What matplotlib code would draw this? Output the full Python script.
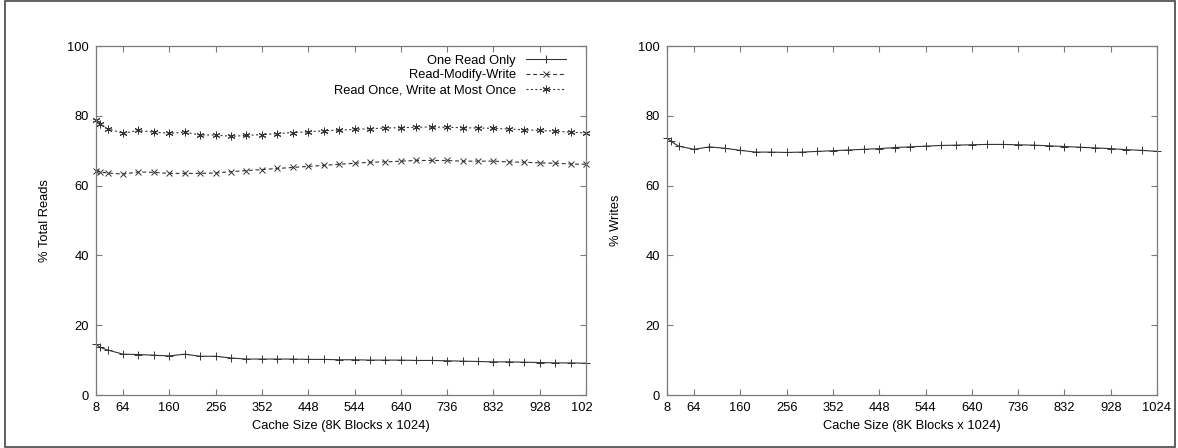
import matplotlib
matplotlib.use("Agg")
import matplotlib.pyplot as plt
from matplotlib.patches import Rectangle
from matplotlib.transforms import Bbox

plt.rcParams['font.family'] = ['Liberation Sans', 'DejaVu Sans']

# Cache sizes (8K blocks x 1024)
cache_size = [8, 16, 32, 64, 96, 128, 160, 192, 224, 256, 288, 320, 352, 384,
              416, 448, 480, 512, 544, 576, 608, 640, 672, 704, 736, 768, 800,
              832, 864, 896, 928, 960, 992, 1024]

one_read_only = [14.5, 13.7, 12.9, 11.7, 11.6, 11.4, 11.2, 11.7, 11.1, 11.1,
                 10.6, 10.3, 10.3, 10.3, 10.3, 10.2, 10.2, 10.1, 10.1, 10.0,
                 10.0, 10.0, 9.9, 9.9, 9.8, 9.7, 9.6, 9.5, 9.5, 9.4, 9.3, 9.2,
                 9.2, 9.1]

read_modify_write = [64.2, 63.9, 63.6, 63.3, 63.9, 63.8, 63.5, 63.5, 63.5, 63.6,
                     64.0, 64.3, 64.6, 64.9, 65.2, 65.5, 65.8, 66.1, 66.4, 66.7,
                     66.8, 67.0, 67.2, 67.2, 67.2, 67.0, 67.0, 67.0, 66.8, 66.7,
                     66.5, 66.4, 66.2, 66.1]

read_once_write_once = [78.8, 77.7, 76.3, 75.0, 75.8, 75.3, 75.0, 75.3, 74.5, 74.5,
                        74.1, 74.4, 74.6, 74.9, 75.2, 75.4, 75.7, 75.9, 76.1, 76.3,
                        76.5, 76.6, 76.7, 76.8, 76.7, 76.6, 76.5, 76.4, 76.2, 76.0,
                        75.8, 75.6, 75.3, 75.1]

writes = [73.6, 72.7, 71.3, 70.4, 71.1, 70.7, 70.1, 69.6, 69.6, 69.5,
          69.6, 69.8, 70.0, 70.2, 70.4, 70.6, 70.9, 71.1, 71.3, 71.5,
          71.6, 71.7, 71.8, 71.8, 71.7, 71.6, 71.4, 71.2, 71.0, 70.8,
          70.6, 70.3, 70.1, 69.8]

xtick_vals = [8, 64, 160, 256, 352, 448, 544, 640, 736, 832, 928, 1024]
ytick_vals = [0, 20, 40, 60, 80, 100]

FS = 9.3
PAD = 5
LINE_C = '#333333'
SPINE_C = '#7a7a7a'

fig = plt.figure(figsize=(11.78, 4.48), dpi=100)
W, H = 1178, 448


def px_axes(x0, x1, ytop, ybot):
    return fig.add_axes([x0 / W, 1 - ybot / H, (x1 - x0) / W, (ybot - ytop) / H])


def style(ax, ylabel, clip_last=False):
    ax.set_xlim(8, 1024)
    ax.set_ylim(0, 100)
    ax.set_yticks(ytick_vals)
    ax.set_yticklabels([str(v) for v in ytick_vals], fontsize=FS)
    ax.set_xticks(xtick_vals)
    labels = [str(v) for v in xtick_vals]
    if clip_last:
        labels[-1] = ''
    ax.set_xticklabels(labels, fontsize=FS)
    ax.tick_params(direction='in', length=4.5, width=0.8, color=SPINE_C,
                   top=True, right=True, pad=PAD)
    for s in ax.spines.values():
        s.set_color(SPINE_C)
        s.set_linewidth(0.9)
    ax.set_ylabel(ylabel, fontsize=FS, labelpad=12)
    ax.set_xlabel('Cache Size (8K Blocks x 1024)', fontsize=FS, labelpad=4)


ax1 = px_axes(96, 586, 46, 395)
ax2 = px_axes(667, 1157, 46, 395)

ax1.plot(cache_size, one_read_only, color=LINE_C, lw=0.8, ls='-',
         marker='+', ms=6, mew=0.7, label='One Read Only', clip_on=False)
ax1.plot(cache_size, read_modify_write, color=LINE_C, lw=0.8, ls=(0, (3.5, 2.5)),
         marker='x', ms=4, mew=0.7, label='Read-Modify-Write', clip_on=False)
ax1.plot(cache_size, read_once_write_once, color=LINE_C, lw=0.8, ls=(0, (1.8, 2.2)),
         marker=(6, 2, 0), ms=5.5, mew=0.7, label='Read Once, Write at Most Once',
         clip_on=False)
style(ax1, '% Total Reads', clip_last=True)

# last tick label of the left panel is cut at the panel edge
t = ax1.annotate('1024', xy=(1024, 0), xycoords=('data', 'axes fraction'),
                 xytext=(0, -PAD), textcoords='offset points',
                 ha='center', va='top', fontsize=FS)
t.set_clip_box(Bbox.from_extents(0, 0, 593, H))
t.set_clip_on(True)

leg = ax1.legend(loc='upper right', bbox_to_anchor=(0.975, 0.997), frameon=False,
                 markerfirst=False, fontsize=FS, handlelength=3.1,
                 handletextpad=0.78, labelspacing=0.2, borderpad=0.1)

ax2.plot(cache_size, writes, color=LINE_C, lw=0.8, ls='-',
         marker='+', ms=6, mew=0.7, clip_on=False)
style(ax2, '% Writes')

# outer frame
fig.patches.append(Rectangle((5 / W, 1 - 447 / H), 1170 / W, 446 / H,
                             transform=fig.transFigure, fill=False,
                             edgecolor='#444444', lw=1.2))

fig.savefig('out.png', dpi=100)
